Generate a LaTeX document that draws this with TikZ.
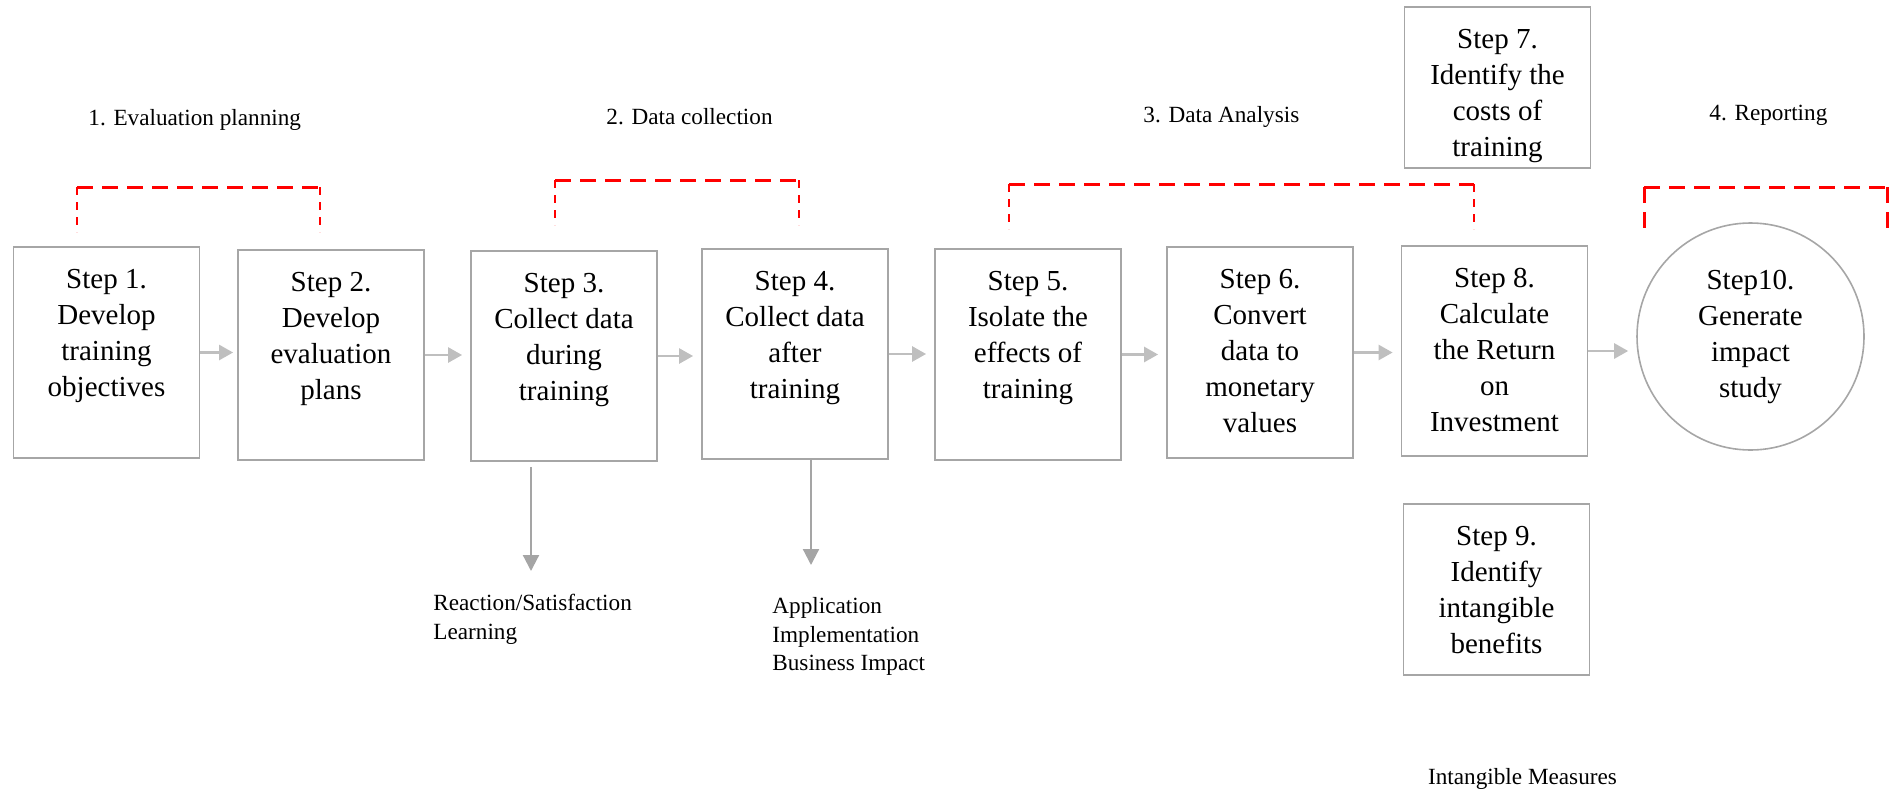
\documentclass[tikz,border=0pt]{standalone}
\usepackage{fontspec}
\setmainfont{Liberation Serif}
\usetikzlibrary{arrows.meta}
\definecolor{boxgray}{HTML}{A6A6A6}
\definecolor{arrgray}{HTML}{BFBFBF}
\definecolor{varrgray}{HTML}{A5A5A5}
\newcommand{\stepbody}[2]{\parbox[c][#1][t]{93pt}{\centering\fontsize{14.5}{18}\selectfont\rule{0pt}{20.5pt}#2}}
\begin{document}
\begin{tikzpicture}[x=0.5pt,y=-0.5pt,
  stepbox/.style={draw=boxgray, line width=0.9pt, inner sep=0pt},
  harrow/.style={draw=arrgray, line width=1.3pt, -{Triangle[length=7pt,width=7.5pt]}, shorten >=4pt},
  varrow/.style={draw=varrgray, line width=1.1pt, -{Triangle[length=8pt,width=8pt]}},
  stagelabel/.style={font=\fontsize{11.6}{14}\selectfont, inner sep=0pt},
  measure/.style={font=\fontsize{11.6}{14.25}\selectfont, inner sep=0pt, align=left, anchor=north west},
  redtop/.style={draw=red, line width=1.5pt, dash pattern=on 8pt off 4.5pt},
  redside/.style={draw=red, line width=1pt, dash pattern=on 4pt off 3.5pt}]

\useasboundingbox (0,0) rectangle (1889,793);

% stage labels
\node[stagelabel, anchor=base west] (s1) at (88,125) {1. Evaluation planning};
\node[stagelabel, anchor=base west] (s2) at (606,124) {2. Data collection};
\node[stagelabel, anchor=base west] (s3) at (1143,122) {3. Data Analysis};
\node[stagelabel, anchor=base west] (s4) at (1709,120) {4. Reporting};

% red dashed brackets
\draw[redtop] (77,187) -- (320,187);
\draw[redside] (77,187) -- (77,232);
\draw[redside] (320,187) -- (320,232);
\draw[redtop] (555,180) -- (799,180);
\draw[redside] (555,180) -- (555,225);
\draw[redside] (799,180) -- (799,225);
\draw[redtop] (1009,184) -- (1474,184);
\draw[redside] (1009,184) -- (1009,229);
\draw[redside] (1474,184) -- (1474,229);
\draw[redtop] (1644,187) -- (1887,187);
\draw[redtop] (1644,187) -- (1644,230);
\draw[redtop] (1887,187) -- (1887,230);

% step boxes
\node[stepbox] (b1) at (106.5,352.5) {\stepbody{105.5pt}{Step 1.\\Develop\\training\\objectives}};
\node[stepbox] (b2) at (331,355) {\stepbody{105pt}{Step 2.\\Develop\\evaluation\\plans}};
\node[stepbox] (b3) at (564,356) {\stepbody{105pt}{Step 3.\\Collect data\\during\\training}};
\node[stepbox] (b4) at (795,354) {\stepbody{105pt}{Step 4.\\Collect data\\after\\training}};
\node[stepbox] (b5) at (1028,354.5) {\stepbody{105.5pt}{Step 5.\\Isolate the\\effects of\\training}};
\node[stepbox] (b6) at (1260,352.5) {\stepbody{105.5pt}{Step 6.\\Convert\\data to\\monetary\\values}};
\node[stepbox] (b7) at (1497.5,87.5) {\stepbody{80.5pt}{Step 7.\\Identify the\\costs of\\training}};
\node[stepbox] (b8) at (1494.5,351) {\stepbody{105pt}{Step 8.\\Calculate\\the Return\\on\\Investment}};
\node[stepbox] (b9) at (1496.5,589.5) {\stepbody{85.5pt}{Step 9.\\Identify\\intangible\\benefits}};
\node[draw=boxgray, line width=0.8pt, circle, minimum size=113.5pt, inner sep=0pt, align=center,
      font=\fontsize{14.5}{18}\selectfont] (c10) at (1750.5,336.5) {Step10.\\Generate\\impact\\study};

% horizontal arrows
\draw[harrow, shorten >=2pt] (b1.east) -- (b1.east -| b2.west);
\draw[harrow] (b2.east) -- (b2.east -| b3.west);
\draw[harrow] (b3.east) -- (b3.east -| b4.west);
\draw[harrow] (b4.east) -- (b4.east -| b5.west);
\draw[harrow] (b5.east) -- (b5.east -| b6.west);
\draw[harrow] (b6.east) -- (b6.east -| b8.west);
\draw[harrow] (b8.east) -- (b8.east -| c10.west);

% vertical arrows and measures
\coordinate (e3) at (531,571);
\coordinate (e4) at (811,565);
\draw[varrow, shorten <=2.5pt] (b3.south -| e3) -- (e3);
\draw[varrow] (b4.south -| e4) -- (e4);
\node[measure] (m3) at (433,594) {Reaction/Satisfaction\\Learning};
\node[measure] (m4) at (772,597) {Application\\Implementation\\Business Impact};
\node[stagelabel, anchor=base] (m9) at (1522.5,784) {Intangible Measures};
\end{tikzpicture}
\end{document}
